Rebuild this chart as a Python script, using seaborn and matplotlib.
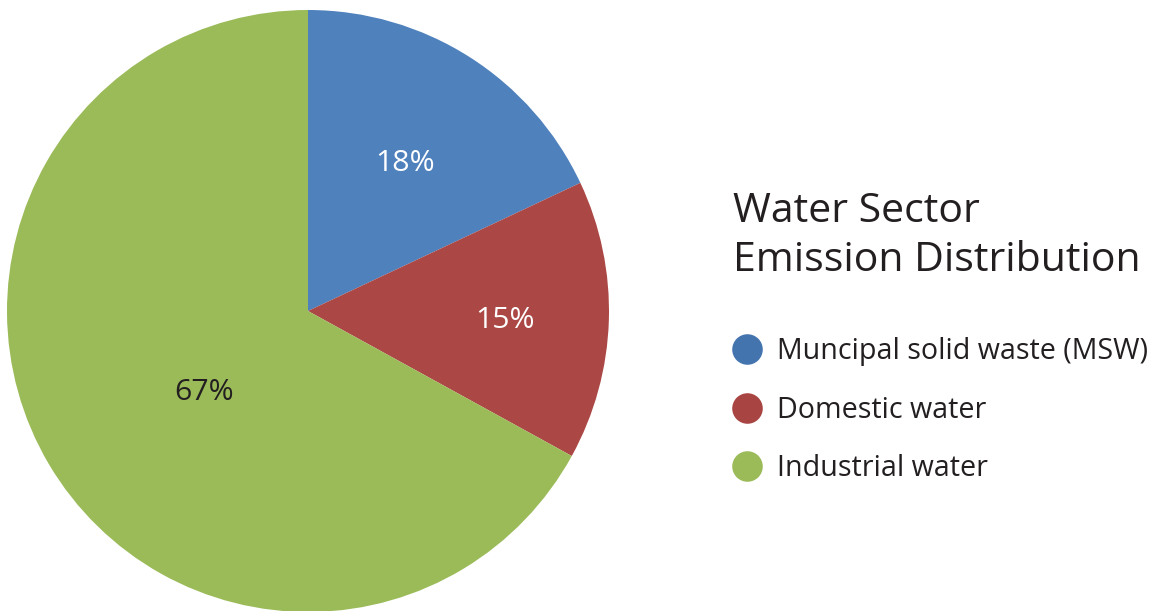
import matplotlib
matplotlib.use("Agg")
import matplotlib.pyplot as plt
from matplotlib.lines import Line2D
import numpy as np
import seaborn as sns

categories = ["Muncipal solid waste (MSW)", "Domestic water", "Industrial water"]
shares = [18, 15, 67]
slice_colors = ["#4F81BD", "#AB4744", "#9BBB59"]
marker_colors = ["#4374AE", "#A84442", "#9BBB59"]
label_colors = ["white", "white", "#231F20"]
# label placement: distance from centre (fraction of radius) and angular nudge (deg)
label_radii = [0.585, 0.655, 0.44]
label_nudge = [-1.0, -1.0, 7.5]
title_text = "Water Sector\nEmission Distribution"

sns.set_theme(style="white")
plt.rcParams["font.family"] = ["Open Sans", "DejaVu Sans"]

W, H, DPI = 1157, 611, 100
fig = plt.figure(figsize=(W / DPI, H / DPI), dpi=DPI)
fig.patch.set_facecolor("white")

# pie axes: square, centred on the left part of the figure
R = 301
cx, cy = 308, 311
ax = fig.add_axes([(cx - R) / W, (H - cy - R) / H, 2 * R / W, 2 * R / H])

wedges, _ = ax.pie(shares, colors=slice_colors, startangle=90, counterclock=False,
                   radius=1, wedgeprops=dict(linewidth=0))
ax.set_xlim(-1, 1)
ax.set_ylim(-1, 1)
ax.set_aspect("equal")
ax.axis("off")

for w, val, col, rd, nd in zip(wedges, shares, label_colors, label_radii, label_nudge):
    mid = np.deg2rad((w.theta1 + w.theta2) / 2 + nd)
    ax.text(rd * np.cos(mid), rd * np.sin(mid), f"{val}%", ha="center", va="center",
            fontsize=21.8, color=col)

# title block and legend
fig.text(733 / W, 1 - 236 / H, title_text, fontsize=29.5, color="#231F20",
         ha="left", va="center", linespacing=1.27)

handles = [Line2D([], [], linestyle="none", marker="o", markersize=22,
                  markerfacecolor=c, markeredgewidth=0) for c in marker_colors]
leg = fig.legend(handles, categories, loc="upper left",
                 bbox_to_anchor=(713 / W, 1 - 326 / H), frameon=False,
                 fontsize=20.6, handletextpad=0.22, labelspacing=1.03,
                 handlelength=1.6, borderaxespad=0)
for t in leg.get_texts():
    t.set_color("#231F20")

fig.savefig("out.png", dpi=DPI, facecolor="white")
